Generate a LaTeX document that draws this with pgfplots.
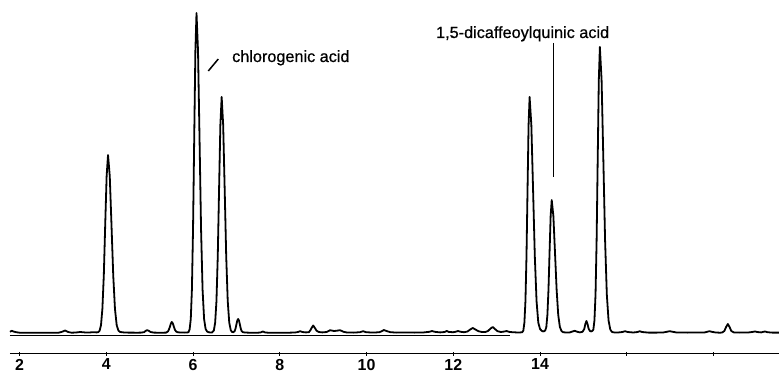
\documentclass[border=0pt]{standalone}
\usepackage{pgfplots}
\pgfplotsset{compat=1.18}
\usepackage{fontspec}
\setmainfont{Liberation Sans}
\newfontfamily\labelfont{Liberation Sans}[BoldFont=Liberation Sans, BoldFeatures={FakeBold=0.7}]
\begin{document}
\begin{tikzpicture}
\begin{axis}[
  scale only axis, width=769bp, height=353.5bp,
  xmin=1.78, xmax=19.51, ymin=-20.5, ymax=333,
  axis x line=bottom, axis y line=none,
  axis line style={-, line width=1.6bp},
  xtick={2,4,6,8,10,12,14,16,18},
  xticklabels={2,4,6,8,10,12,14,{},{}},
  tick align=center, major tick length=4bp,
  tick style={line width=1bp, black},
  /pgf/number format/assume math mode=true,
  xticklabel style={font=\fontsize{16}{16}\selectfont\bfseries, inner sep=0pt, yshift=-3.2bp},
  clip=false,
]
\addplot[black, line width=1.8bp, line join=round] coordinates {
(1.78,1.2)(1.82,2.2)(1.86,1.5)(1.92,0.8)(2.0,0.3)(2.3,0.2)(2.6,0.3)(2.9,0.3)(2.98,1.2)(3.05,2.5)(3.12,1.0)(3.2,0.3)(3.3,0.5)(3.4,1.0)(3.5,0.6)(3.6,0.5)(3.7,0.8)(3.78,0.6)
(3.8125,0.8)(3.845,2.2)(3.878,7.8)(3.91,24.1)(3.943,57.8)(3.975,108)(4.008,157)(4.04,178)(4.08,157)(4.12,108)(4.16,57.8)(4.2,24.1)(4.24,7.8)(4.28,2.4)(4.32,1)(4.4,0.6)(4.5,0.4)(4.6,0.4)(4.7,0.3)(4.8,0.4)
(4.87,0.8)(4.91,2.2)(4.94,2.8)(4.98,2.2)(5.02,1)(5.1,0.4)(5.2,0.3)(5.3,0.3)
(5.38,0.4)(5.42,1.5)(5.44,3)(5.465,6)(5.49,9.5)(5.51,11)(5.535,9.5)(5.56,6)(5.585,3)(5.61,1.5)(5.65,0.7)(5.72,0.5)(5.8,0.4)(5.86,0.5)
(5.895,0.8)(5.921,3.6)(5.948,14)(5.974,43.3)(6.0,104)(6.027,194)(6.054,282)(6.08,320)(6.115,282)(6.15,194)(6.185,104)(6.22,43.3)(6.255,14)(6.29,4)(6.325,1.5)(6.36,0.8)(6.4,0.5)(6.44,0.6)
(6.48,2.6)(6.51,10.4)(6.54,31.9)(6.57,76.6)(6.6,143)(6.63,208)(6.66,236)(6.695,208)(6.73,143)(6.765,76.6)(6.8,31.9)(6.835,10.4)(6.87,2.8)(6.9,1)(6.93,0.8)
(6.96,1.9)(6.98,4.5)(7.0,8.5)(7.02,12.4)(7.04,14)(7.06,12.4)(7.08,8.5)(7.1,4.5)(7.12,2)(7.15,0.8)(7.2,0.5)(7.3,0.3)(7.4,0.3)(7.5,0.3)
(7.56,0.6)(7.61,1.5)(7.66,0.6)(7.75,0.2)(7.9,0.3)(8.05,0.2)(8.2,0.3)(8.35,0.5)
(8.42,1)(8.47,1.8)(8.52,1)(8.6,0.6)
(8.67,0.8)(8.71,3)(8.74,5.5)(8.77,7.5)(8.81,5)(8.85,2.2)(8.9,1)(8.98,0.6)
(9.08,1)(9.16,2.8)(9.25,2)(9.3,2.2)(9.39,2.8)(9.47,1.2)(9.55,0.5)(9.7,0.4)
(9.85,0.8)(9.92,1.8)(9.99,0.8)(10.15,0.4)(10.3,0.8)
(10.36,2)(10.40,3)(10.46,2)(10.55,0.8)(10.7,0.4)(10.9,0.5)(11.1,0.4)(11.3,0.5)
(11.45,1.2)(11.51,2)(11.57,1.2)(11.7,0.6)(11.8,1)(11.85,2)(11.9,1)(12.0,0.8)(12.05,1.2)(12.11,2)(12.17,1.2)(12.25,0.8)
(12.33,1.5)(12.39,3.5)(12.45,5)(12.51,3.5)(12.58,1.8)(12.66,1)(12.74,1)
(12.8,2)(12.86,4.5)(12.91,6)(12.96,4)(13.02,1.8)(13.1,1)(13.18,1.5)(13.23,2)(13.28,1.2)(13.36,0.8)(13.45,0.6)(13.53,0.5)
(13.592,0.8)(13.616,2.6)(13.64,10.4)(13.664,31.9)(13.688,76.6)(13.712,143)(13.736,208)(13.76,236)(13.8,208)(13.84,143)(13.88,76.6)(13.92,31.9)(13.96,10.4)(14.0,4)(14.04,2.2)(14.07,1.6)
(14.095,1.8)(14.12,2.6)(14.145,5.8)(14.17,18)(14.195,43.2)(14.22,80.7)(14.245,117)(14.27,133)(14.308,117)(14.345,80.7)(14.383,43.2)(14.42,18)(14.458,6)(14.495,2)(14.53,0.8)(14.6,0.5)(14.68,0.5)
(14.74,1.4)(14.80,2.2)(14.86,1.2)(14.92,0.6)
(14.98,1.2)(15.02,4)(15.045,9)(15.07,12)(15.095,9)(15.12,4.5)(15.15,2)(15.18,1.6)
(15.205,2)(15.23,3.5)(15.255,12.6)(15.28,38.7)(15.305,92.9)(15.33,173.5)(15.355,252.4)(15.38,286)(15.42,252.4)(15.46,173.5)(15.5,92.9)(15.54,38.7)(15.58,12.6)(15.62,3.4)(15.66,1)(15.72,0.5)(15.8,0.5)
(15.9,1)(15.96,1.8)(16.02,1)(16.15,0.5)(16.25,1)(16.30,1.8)(16.35,1)(16.5,0.4)(16.7,0.4)(16.85,0.6)(16.92,1.2)(16.99,1.8)(17.06,1.2)(17.15,0.5)(17.4,0.4)(17.6,0.5)(17.8,0.6)(17.86,1.3)(17.91,1.8)(17.96,1.2)(18.05,0.5)(18.15,0.3)
(18.2,0.5)(18.25,2)(18.29,6)(18.33,9)(18.37,6)(18.41,2)(18.47,0.6)(18.6,0.4)(18.8,0.5)(18.92,1.2)(18.96,1.6)(19.0,1)(19.1,0.6)(19.15,1.2)(19.19,1.5)(19.24,0.8)(19.35,0.4)(19.51,0.4)
};
% integration baseline
\addplot[black, line width=1bp] coordinates {(1.78,-2.6)(13.31,-2.6)};
% annotations
\draw[black, line width=1.5bp] (axis cs:6.352,262) -- (axis cs:6.582,274);
\node[anchor=base west, inner sep=0pt, font=\labelfont\bfseries\fontsize{16.3}{18}\selectfont] at (axis cs:6.898,271) {chlorogenic acid};
\draw[black, line width=1.6bp] (axis cs:14.31,290) -- (axis cs:14.31,156);
\node[anchor=base west, inner sep=0pt, font=\labelfont\bfseries\fontsize{16.3}{18}\selectfont] at (axis cs:11.60,295) {1,5-dicaffeoylquinic acid};
\end{axis}
\pgfresetboundingbox
\path[use as bounding box] ([xshift=-10bp,yshift=-18.5bp]current axis.south west) rectangle (current axis.north east);
\end{tikzpicture}
\end{document}
